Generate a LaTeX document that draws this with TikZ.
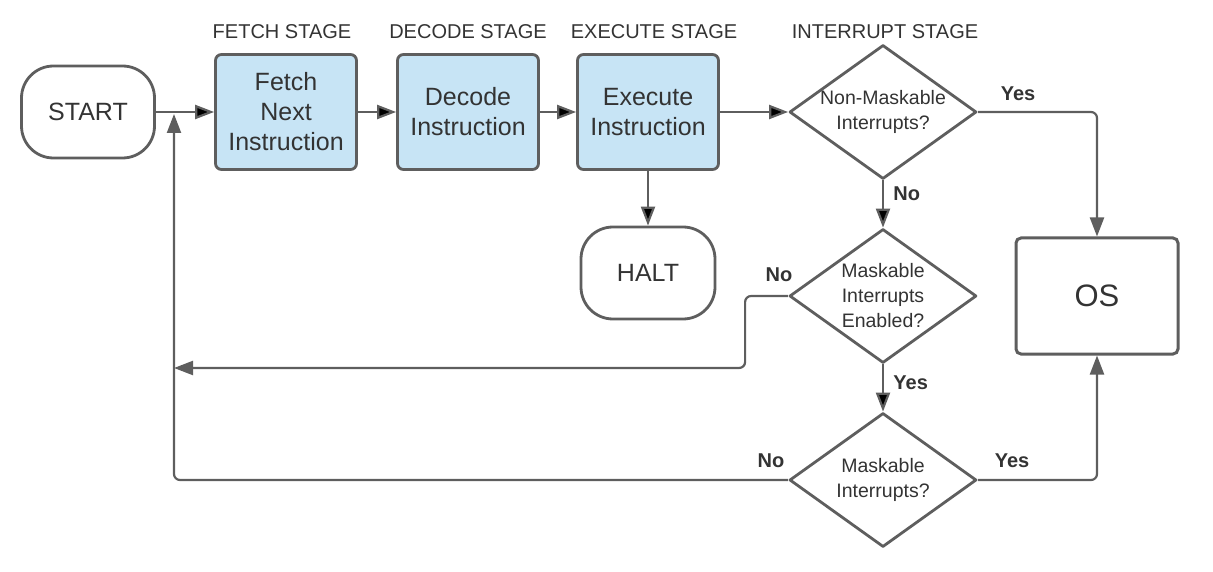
\documentclass[tikz,border=0pt]{standalone}
\usepackage{fontspec}
\setmainfont{Liberation Sans}
\usetikzlibrary{shapes.geometric,arrows.meta}
\definecolor{lineg}{HTML}{5E5E5E}
\definecolor{textg}{HTML}{333333}
\definecolor{stagefill}{HTML}{C7E4F5}
\tikzset{
	term/.style={draw=lineg,line width=2.8pt,rounded corners=32pt,minimum width=133pt,minimum height=92pt,text=textg,font=\fontsize{25}{30}\selectfont},
	stagebox/.style={draw=lineg,fill=stagefill,line width=2.8pt,rounded corners=6pt,minimum width=141pt,minimum height=115pt,align=center,text=textg,font=\fontsize{25}{30}\selectfont},
	decide/.style={diamond,aspect=1.4,draw=lineg,line width=2.8pt,line join=round,inner sep=0pt,minimum width=187pt,minimum height=134pt,align=center,text=textg,font=\fontsize{19.5}{25}\selectfont},
	stagelbl/.style={text=textg,font=\fontsize{20}{24}\selectfont},
	ans/.style={text=textg,font=\bfseries\fontsize{20}{24}\selectfont},
	flow/.style={draw=lineg,line width=2.2pt,rounded corners=6pt,-{Triangle[length=19pt,width=14pt]}},
}
\begin{document}
\begin{tikzpicture}[x=1pt,y=-1pt]
		\useasboundingbox (0,0) rectangle (1213,572);
		\node[stagelbl] at (282,32) {FETCH STAGE};
		\node[stagelbl] at (468,32) {DECODE STAGE};
		\node[stagelbl] at (654,32) {EXECUTE STAGE};
		\node[stagelbl] at (885,32) {INTERRUPT STAGE};
		\node[term] (start) at (88,112) {START};
		\node[stagebox] (fetch) at (286,112) {Fetch\\Next\\Instruction};
		\node[stagebox] (decode) at (468,112) {Decode\\Instruction};
		\node[stagebox] (exec) at (648,112) {Execute\\Instruction};
		\node[term,minimum width=134pt] (halt) at (648,273) {HALT};
		\node[decide] (nmi) at (883,112) {Non-Maskable\\Interrupts?};
		\node[decide] (mie) at (883,296) {Maskable\\Interrupts\\Enabled?};
		\node[decide] (mi) at (883,480) {Maskable\\Interrupts?};
		\node[draw=lineg,line width=3pt,rounded corners=5pt,minimum width=162pt,minimum height=116pt,text=textg,font=\fontsize{31}{34}\selectfont] (os) at (1097,296) {OS};
		\coordinate (loopx) at (174,368);
		\path[flow]
		(start) edge (fetch)
		(fetch) edge (decode)
		(decode) edge (exec)
		(exec) edge (nmi)
		(exec) edge (halt)
		(nmi) edge node [ans,right=6pt,pos=0.28] {No} (mie)
		(mie) edge node [ans,right=6pt,pos=0.38] {Yes} (mi);
		\draw[flow] (nmi.east) -| (os.north);
		\draw[flow] (mi.east) -| (os.south);
		\draw[flow] (mie.west) -- ++(-43,0) |- (loopx);
		\draw[flow] (mi.west) -| (loopx |- 0,114);
		\node[ans] at (1018,94) {Yes};
		\node[ans] at (779,275) {No};
		\node[ans] at (771,461) {No};
		\node[ans] at (1012,461) {Yes};
		\end{tikzpicture}
\end{document}
